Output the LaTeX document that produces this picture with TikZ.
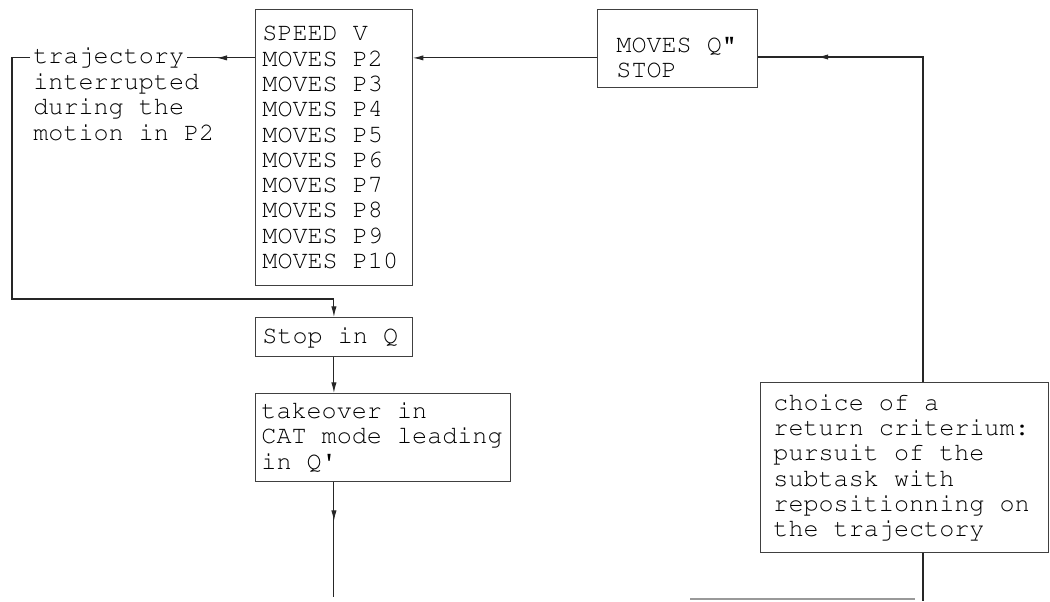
\documentclass[tikz,border=0pt]{standalone}
\usepackage[T1]{fontenc}
\usepackage{tikz}
\usetikzlibrary{arrows.meta,positioning,decorations.markings}

\newcommand{\unitpx}{0.02cm}
\newcommand{\typew}{\fontfamily{pcr}\fontsize{14.3pt}{14.4pt}\selectfont}

\begin{document}
\begin{tikzpicture}[
    x=\unitpx, y=-\unitpx,
    box/.style={draw=black!75, line width=0.5pt, anchor=north west, align=flush left, inner ysep=0pt, font=\typew},
    txt/.style={inner ysep=0pt, font=\typew},
    wire/.style={draw=black!85, line width=0.6pt},
    arr/.style={wire, -{Latex[length=6pt,width=3pt]}},
    midarrow/.style={postaction={decorate}, decoration={markings, mark=at position #1 with {\arrow{Latex[length=6pt,width=3pt]}}}}
  ]
    \useasboundingbox (0,0) rectangle (1050,601);

    % robot program
    \node[box, text width=2.86cm, inner xsep=0.14cm, minimum height=5.52cm] (prog) at (255,9)
      {SPEED V\\MOVES P2\\MOVES P3\\MOVES P4\\MOVES P5\\MOVES P6\\MOVES P7\\MOVES P8\\MOVES P9\\MOVES P10};
    \node[txt, anchor=base west, inner xsep=0.06cm] (tj) at (30,64) {trajectory};
    \node[txt, anchor=north west, inner xsep=0pt, align=flush left] (note) at (33,73)
      {interrupted\\during the\\motion in P2};

    \node[box, text width=2.86cm, inner xsep=0.14cm, minimum height=0.78cm] (stop) at (255,317) {Stop in Q};
    \node[box, text width=4.86cm, inner xsep=0.12cm, minimum height=1.76cm] (take) at (255,393)
      {takeover in\\CAT mode leading\\in Q\textquotesingle};

    % return path
    \node[box, text width=2.44cm, inner xsep=0.38cm, minimum height=1.56cm] (qbox) at (597,9)
      {\rule{0pt}{0.66cm}MOVES Q"\\STOP};
    \node[box, text width=5.24cm, inner xsep=0.26cm, minimum height=3.4cm] (choice) at (760,382)
      {choice of a\\return criterium:\\pursuit of the\\subtask with\\repositionning on\\the trajectory};

    \coordinate (lc) at (12,299);
    \coordinate (bend) at (923,57);
    \coordinate (tail) at (340,597);
    \coordinate (rbot) at (923,601);
    \coordinate (cutl) at (690,599);
    \coordinate (cutr) at (915,599);

    \draw[wire, midarrow=0.57] (prog.west |- tj.east) -- (tj.east);
    \draw[arr] (tj.west) -| (lc) -| (stop.north);
    \draw[arr] (stop.south) -- (stop.south |- take.north);
    \draw[wire, midarrow=0.34] (stop.south |- take.south) -- (stop.south |- tail);

    \draw[arr] (qbox.west |- tj.east) -- (prog.east |- tj.east);
    \draw[wire, midarrow=0.878] (choice.north -| bend) -- (bend) -- (qbox.east |- bend);
    \draw[wire] (choice.south -| bend) -- (rbot);
    \draw[wire, draw=black!40] (cutl) -- (cutr);
  \end{tikzpicture}
\end{document}
